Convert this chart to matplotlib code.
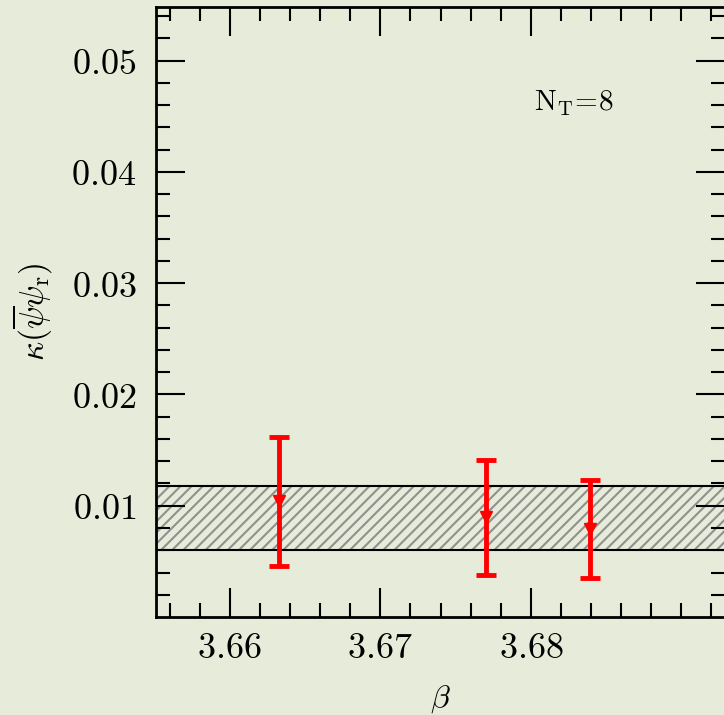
import matplotlib
matplotlib.use("Agg")
import matplotlib.pyplot as plt
import numpy as np

plt.rcParams['mathtext.fontset'] = 'cm'
plt.rcParams['font.family'] = 'DejaVu Serif'
plt.rcParams['hatch.color'] = '#909090'
plt.rcParams['hatch.linewidth'] = 1.5

# measured points
beta = [3.6633, 3.6770, 3.6839]
kappa = [0.0104, 0.0090, 0.0079]
err_hi = [0.0162, 0.0141, 0.0123]
err_lo = [0.0046, 0.0038, 0.0035]

# fitted band
band_lo = 0.0060
band_hi = 0.0118

xticks = [3.66, 3.67, 3.68]
yticks = [0.01, 0.02, 0.03, 0.04, 0.05]

bg = '#e6ecd9'
fig = plt.figure(figsize=(7.24, 7.15), dpi=100, facecolor=bg)
ax = fig.add_axes([0.2155, 0.137, 0.7859, 0.853])
ax.set_facecolor(bg)

xmin, xmax = 3.6551, 3.6929
ax.fill_between([xmin, xmax], band_lo, band_hi, facecolor='none', hatch='///',
                edgecolor='#909090', linewidth=0)
ax.axhline(band_lo, color='black', lw=1.5)
ax.axhline(band_hi, color='black', lw=1.5)

yerr = [np.array(kappa) - np.array(err_lo), np.array(err_hi) - np.array(kappa)]
ax.errorbar(beta, kappa, yerr=yerr, fmt='v', color='red', ms=8, elinewidth=3.5,
            capsize=7, capthick=3.5, zorder=5)

ax.set_xlim(xmin, xmax)
ax.set_ylim(0, 0.0548)
ax.set_xticks(xticks)
ax.set_xticklabels(['$%.2f$' % v for v in xticks])
ax.set_yticks(yticks)
ax.set_yticklabels(['$%.2f$' % v for v in yticks])
ax.set_xticks(np.arange(3.656, 3.693, 0.002), minor=True)
ax.set_yticks(np.arange(0.002, 0.055, 0.002), minor=True)

ax.tick_params(which='both', direction='in', top=True, right=True, width=1.5)
ax.tick_params(which='major', length=21, labelsize=26)
ax.tick_params(axis='x', which='major', pad=10)
ax.tick_params(axis='y', which='major', pad=14)
ax.tick_params(which='minor', length=10)
for s in ax.spines.values():
    s.set_linewidth(2)

ax.set_xlabel(r'$\beta$', fontsize=23, labelpad=13)
ax.set_ylabel(r'$\kappa(\overline{\psi}\psi_{\rm r})$', fontsize=24, labelpad=12)
ax.text(3.6802, 0.0455, r'$\mathrm{N_T\!=\!8}$', fontsize=21)

fig.savefig('out.png', dpi=100, facecolor=bg)
